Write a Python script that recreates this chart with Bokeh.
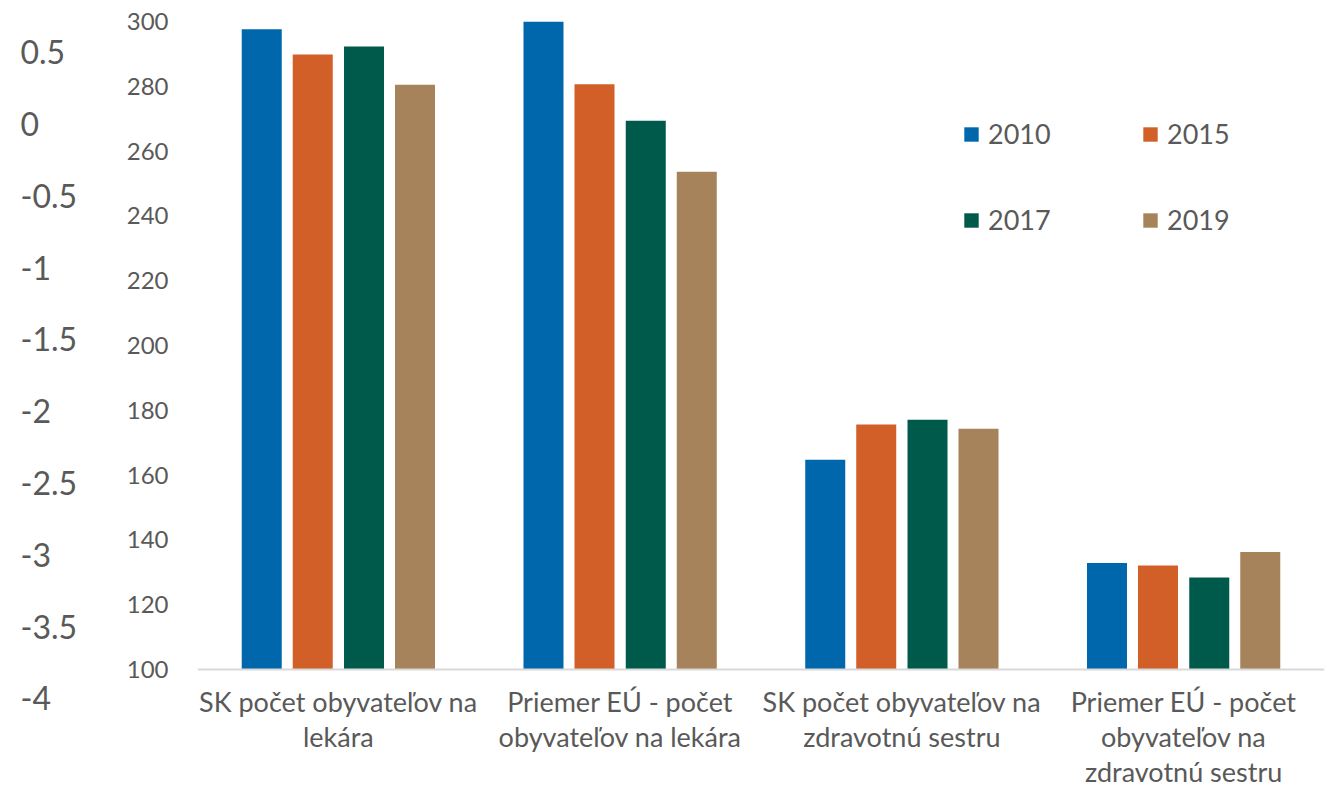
from bokeh.plotting import figure
from bokeh.layouts import row
from bokeh.models import FactorRange, Range1d, FixedTicker, CustomJSTickFormatter, ColumnDataSource
from bokeh.transform import dodge
from bokeh.embed import file_html
from bokeh.resources import INLINE

categories = [
    "SK počet obyvateľov na\nlekára",
    "Priemer EÚ - počet\nobyvateľov na lekára",
    "SK počet obyvateľov na\nzdravotnú sestru",
    "Priemer EÚ - počet\nobyvateľov na\nzdravotnú sestru",
]
years = ["2010", "2015", "2017", "2019"]
v2010 = [297.6, 300.0, 164.7, 132.9]
v2015 = [289.8, 280.6, 175.6, 132.1]
v2017 = [292.3, 269.4, 177.1, 128.4]
v2019 = [280.5, 253.6, 174.3, 136.3]
inner_ticks = [100, 120, 140, 160, 180, 200, 220, 240, 260, 280, 300]
outer_ticks = [-4, -3.5, -3, -2.5, -2, -1.5, -1, -0.5, 0, 0.5]

colors = ["#0067AC", "#D35F28", "#005A4B", "#A6835B"]
offsets = [-0.272, -0.091, 0.091, 0.272]
FONT = "Lato"
TXT = "#595959"

src = ColumnDataSource(dict(cat=categories, y2010=v2010, y2015=v2015, y2017=v2017, y2019=v2019))

H = 789

# ---- outer (empty) axis on the far left ----
lf = figure(width=110, height=H, x_range=Range1d(0, 1), y_range=Range1d(-4.6337, 0.7138),
            x_axis_location=None, y_axis_location="right", toolbar_location=None,
            output_backend="svg", min_border_left=0, min_border_right=94,
            min_border_top=21, min_border_bottom=0, outline_line_color=None)
lf.grid.visible = False
oa = lf.yaxis[0]
oa.ticker = FixedTicker(ticks=outer_ticks)
oa.formatter = CustomJSTickFormatter(code="return tick.toString()")
oa.axis_line_color = None
oa.major_tick_line_color = None
oa.minor_tick_line_color = None
oa.major_tick_out = 0
oa.major_tick_in = 0
oa.major_label_standoff = 4
oa.major_label_text_font = FONT
oa.major_label_text_font_size = "32px"
oa.major_label_text_color = TXT

# ---- main chart ----
p = figure(width=1220, height=H, x_range=FactorRange(*categories), y_range=Range1d(62.96, 300),
           toolbar_location=None, output_backend="svg",
           min_border_left=87, min_border_right=6, min_border_top=21, min_border_bottom=0,
           outline_line_color=None)
p.grid.visible = False

for yr, c, off in zip(years, colors, offsets):
    p.vbar(x=dodge("cat", off, range=p.x_range), top="y" + yr, bottom=100, width=0.142,
           source=src, fill_color=c, line_color=None, legend_label=yr)

ya = p.yaxis[0]
ya.ticker = FixedTicker(ticks=inner_ticks)
ya.axis_line_color = None
ya.major_tick_line_color = None
ya.minor_tick_line_color = None
ya.major_tick_out = 0
ya.major_tick_in = 0
ya.major_label_standoff = 29
ya.major_label_text_font = FONT
ya.major_label_text_font_size = "24px"
ya.major_label_text_color = TXT

xa = p.xaxis[0]
xa.fixed_location = 100
xa.axis_line_color = "#D9D9D9"
xa.axis_line_width = 2
xa.major_tick_line_color = None
xa.minor_tick_line_color = None
xa.major_tick_out = 0
xa.major_tick_in = 0
xa.major_label_standoff = 16
xa.major_label_text_font = FONT
xa.major_label_text_font_size = "27px"
xa.major_label_text_line_height = 1.05
xa.major_label_text_color = TXT

lg = p.legend[0]
lg.orientation = "horizontal"
lg.ncols = 2
lg.glyph_width = 18
lg.glyph_height = 18
lg.label_standoff = 8
lg.label_width = 100
lg.label_height = 32
lg.spacing = 53
lg.padding = 0
lg.margin = 0
lg.border_line_color = None
lg.background_fill_alpha = 0
lg.label_text_font = FONT
lg.label_text_font_size = "27px"
lg.label_text_color = TXT
lg.location = (765, 553)

layout = row(lf, p)
open("out.html", "w").write(file_html(layout, INLINE))
